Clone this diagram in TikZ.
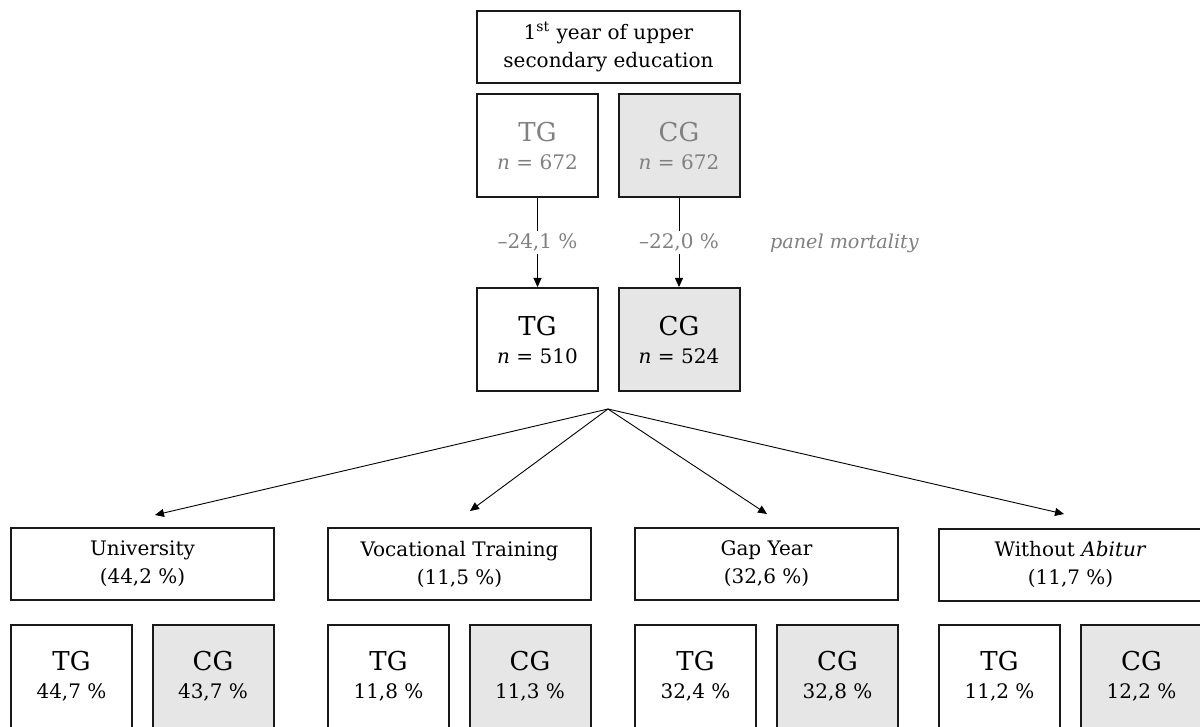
\documentclass[tikz,border=0pt]{standalone}
\usepackage{fontspec}
\setmainfont{DejaVu Serif}
\usetikzlibrary{arrows.meta}
\definecolor{boxgray}{HTML}{E6E6E6}
\definecolor{txtgray}{HTML}{808080}
\newcommand{\grpname}[1]{{\fontsize{13}{14}\selectfont #1}}
\begin{document}
\begin{tikzpicture}[x=0.5pt,y=-0.5pt,
  box/.style={draw=black!90,line width=1pt,inner sep=0pt,align=center,
    font=\fontsize{10}{14}\selectfont},
  wide/.style={box,minimum width=131.5pt,minimum height=36pt},
  grp/.style={box,minimum width=60.5pt,minimum height=51.5pt},
  cgrp/.style={grp,fill=boxgray},
  conn/.style={line width=0.45pt,-{Triangle[length=4.5pt,width=4pt]}},
  lbl/.style={fill=white,inner sep=1.5pt,text=txtgray,font=\fontsize{10}{12}\selectfont}]
\useasboundingbox (0,0) rectangle (1200,727);
\clip (0,0) rectangle (1200,727);
% top
\node[wide] (top) at (608.5,47) {1\textsuperscript{st} year of upper\\secondary education};
\node[grp,text=txtgray] (tg1) at (537.5,145.5) {\grpname{TG}\\\textit{n} = 672};
\node[cgrp,text=txtgray] (cg1) at (679,145.5) {\grpname{CG}\\\textit{n} = 672};
\node[grp] (tg2) at (537.5,339.5) {\grpname{TG}\\\textit{n} = 510};
\node[cgrp] (cg2) at (679,339.5) {\grpname{CG}\\\textit{n} = 524};
\draw[conn] (tg1) -- node[lbl] {–24,1 \%} (tg2);
\draw[conn] (cg1) -- node[lbl] {–22,0 \%} (cg2);
\node[text=txtgray,font=\fontsize{9.6}{12}\selectfont\itshape,anchor=west] (pm) at (763,243) {panel mortality};
% split
\coordinate (split) at (608,409);
\coordinate (eu) at (155,515);
\coordinate (ev) at (470,511);
\coordinate (eg) at (767,514);
\coordinate (ew) at (1064,514);
\foreach \e in {eu,ev,eg,ew} \draw[conn] (split) -- (\e);
% middle
\node[wide] (uni) at (142.5,564) {University\\(44,2 \%)};
\node[wide] (voc) at (459.5,564) {Vocational Training\\(11,5 \%)};
\node[wide] (gap) at (766.5,564) {Gap Year\\(32,6 \%)};
\node[wide] (wo) at (1070.5,564.5) {Without \textit{Abitur}\\(11,7 \%)};
% bottom
\node[grp] (utg) at (71.5,676.5) {\grpname{TG}\\44,7 \%};
\node[cgrp] (ucg) at (213,676.5) {\grpname{CG}\\43,7 \%};
\node[grp] (vtg) at (388.5,676.5) {\grpname{TG}\\11,8 \%};
\node[cgrp] (vcg) at (530,676.5) {\grpname{CG}\\11,3 \%};
\node[grp] (gtg) at (695.5,676.5) {\grpname{TG}\\32,4 \%};
\node[cgrp] (gcg) at (837.5,676.5) {\grpname{CG}\\32,8 \%};
\node[grp] (wtg) at (999.5,676.5) {\grpname{TG}\\11,2 \%};
\node[cgrp] (wcg) at (1141.5,676.5) {\grpname{CG}\\12,2 \%};
\end{tikzpicture}
\end{document}
